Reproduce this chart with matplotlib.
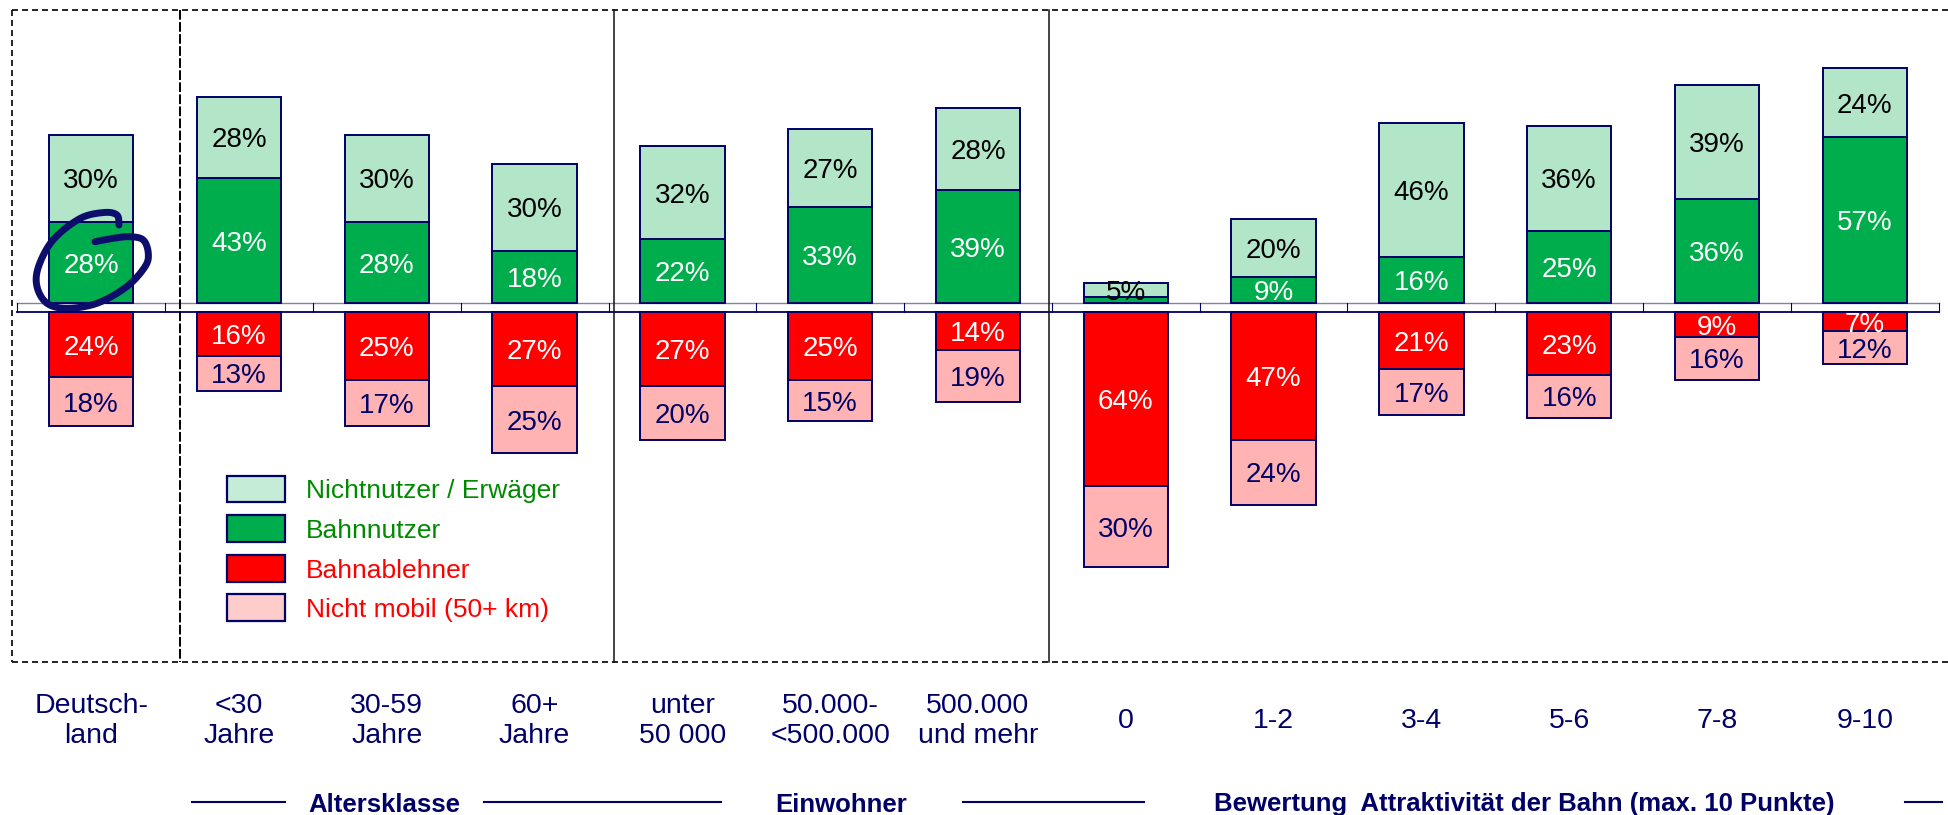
import numpy as np
import matplotlib
matplotlib.use("Agg")
import matplotlib.pyplot as plt
from matplotlib.patches import Rectangle
from matplotlib.transforms import blended_transform_factory

plt.rcParams['font.family'] = ['Liberation Sans', 'DejaVu Sans']

# ---- data -------------------------------------------------------------
categories = ["Deutsch-\nland", "<30\nJahre", "30-59\nJahre", "60+\nJahre",
              "unter\n50 000", "50.000-\n<500.000", "500.000\nund mehr",
              "0", "1-2", "3-4", "5-6", "7-8", "9-10"]
groups = ["Altersklasse", "Einwohner",
          "Bewertung  Attraktivität der Bahn (max. 10 Punkte)"]

nichtnutzer = [30, 28, 30, 30, 32, 27, 28, 5, 20, 46, 36, 39, 24]
bahnnutzer = [28, 43, 28, 18, 22, 33, 39, 2, 9, 16, 25, 36, 57]
ablehner = [24, 16, 25, 27, 27, 25, 14, 64, 47, 21, 23, 9, 7]
nicht_mobil = [18, 13, 17, 25, 20, 15, 19, 30, 24, 17, 16, 16, 12]

legend_labels = ["Nichtnutzer / Erwäger", "Bahnnutzer",
                 "Bahnablehner", "Nicht mobil (50+ km)"]

# ---- style ------------------------------------------------------------
LIGHT = '#b3e6c8'
GREEN = '#00ad4c'
RED = '#ff0000'
PINK = '#ffb3b3'
NAVY = '#000066'
TXT_GREEN = '#008a00'

W, H = 1948, 815


def frame(left, top, right, bottom):
    """axes rect in figure fraction from pixel edges (y measured from top)"""
    return [left / W, 1 - bottom / H, (right - left) / W, (bottom - top) / H]


fig = plt.figure(figsize=(W / 100, H / 100), dpi=100)

# background axes in pixel coordinates for frame, dividers, legend ...
ax_bg = fig.add_axes([0, 0, 1, 1])
ax_bg.set_xlim(0, W)
ax_bg.set_ylim(H, 0)
ax_bg.axis('off')
ax_bg.set_zorder(0)

ax_top = fig.add_axes(frame(12, 10, W, 303.3))
ax_bot = fig.add_axes(frame(12, 312.3, W, 661.7))
for ax in (ax_top, ax_bot):
    ax.set_xlim(-0.536, 12.563)
    ax.axis('off')
    ax.set_zorder(2)
    ax.patch.set_alpha(0)
ax_top.set_ylim(0, 100.8)
ax_bot.set_ylim(-128.7, 0)

x = np.arange(len(categories))
width = 0.572
bar_kw = dict(edgecolor=NAVY, linewidth=1.4, clip_on=False)

neg_abl = -np.array(ablehner)
neg_mob = -np.array(nicht_mobil)

b_nutzer = ax_top.bar(x, bahnnutzer, width, color=GREEN, **bar_kw)
b_nicht = ax_top.bar(x, nichtnutzer, width, bottom=bahnnutzer, color=LIGHT, **bar_kw)
b_abl = ax_bot.bar(x, neg_abl, width, color=RED, **bar_kw)
b_mob = ax_bot.bar(x, neg_mob, width, bottom=neg_abl, color=PINK, **bar_kw)


def label_bars(ax, bars, values, color):
    for rect, v in zip(bars, values):
        if v < 3:
            continue
        ax.text(rect.get_x() + rect.get_width() / 2,
                rect.get_y() + rect.get_height() / 2,
                f"{v}%", ha='center', va='center_baseline',
                fontsize=20, color=color, zorder=5)


label_bars(ax_top, b_nutzer, bahnnutzer, 'white')
label_bars(ax_top, b_nicht, nichtnutzer, 'black')
label_bars(ax_bot, b_abl, ablehner, 'white')
label_bars(ax_bot, b_mob, nicht_mobil, NAVY)

# ---- zero band -------------------------------------------------------
trans = blended_transform_factory(ax_bot.transData, ax_bg.transData)
n = len(categories)
ax_bg.add_patch(Rectangle((-0.5, 303.3), n, 9, transform=trans,
                          facecolor='white', edgecolor='none'))
ax_bg.plot([-0.5, n - 0.5], [303.3, 303.3], transform=trans,
           color='#8080b0', lw=1.0)
ax_bg.plot([-0.5, n - 0.5], [312.3, 312.3], transform=trans,
           color=NAVY, lw=1.3)
for xb in np.arange(-0.5, n, 1.0):
    ax_bg.plot([xb, xb], [303.3, 312.3], transform=trans,
               color=NAVY, lw=0.8)

# ---- frame and group dividers ---------------------------------------
dash = dict(color='black', lw=1.2, linestyle=(0, (3.6, 2.4)))
ax_bg.plot([12, 12], [10, 661.7], **dash)
ax_bg.plot([12, W], [10, 10], **dash)
ax_bg.plot([12, W], [661.7, 661.7], **dash)
ax_bg.plot([180, 180], [10, 661.7], color='black', lw=1.4,
           linestyle=(0, (5, 1.2)))
for xd in (614, 1049):
    ax_bg.plot([xd, xd], [10, 661.7], color='#111111', lw=1.1)

# ---- category labels -------------------------------------------------
for xi, lab in zip(x, categories):
    lines = lab.split("\n")
    bases = [713.3, 743.3] if len(lines) == 2 else [728.3]
    for line, yb in zip(lines, bases):
        ax_bg.text(xi, yb, line, transform=trans, ha='center', va='baseline',
                   fontsize=20.5, color=NAVY)

# ---- group labels with rules ---------------------------------------
for cx, g in zip((384, 841.5, 1523.8), groups):
    ax_bg.text(cx, 811.5, g, ha='center', va='baseline', fontsize=18.5,
               fontweight='bold', color=NAVY)
for x0, x1 in ((191.5, 285.2), (484, 720.5), (962.5, 1143.8), (1904.5, 1942)):
    ax_bg.plot([x0, x1], [801.7, 801.7], color=NAVY, lw=1.5)

# ---- legend ----------------------------------------------------------
leg_fill = ['#c5ecd6', GREEN, RED, '#ffcccc']
leg_text = [TXT_GREEN, TXT_GREEN, RED, RED]
for yc, fc, tc, lab in zip((489, 528.3, 568.3, 607.7), leg_fill, leg_text,
                           legend_labels):
    ax_bg.add_patch(Rectangle((226.8, yc - 13.3), 58.4, 26.6,
                              facecolor=fc, edgecolor=NAVY, lw=1.6))
    ax_bg.text(306, yc + 9.4, lab, ha='left', va='baseline', fontsize=19,
               color=tc)


# ---- hand-drawn circle around the Germany value ----------------------
def catmull_rom(pts, steps=14):
    p = np.asarray(pts, float)
    p = np.vstack([p[0], p, p[-1]])
    out = []
    t = np.linspace(0, 1, steps, endpoint=False)[:, None]
    for i in range(1, len(p) - 2):
        p0, p1, p2, p3 = p[i - 1], p[i], p[i + 1], p[i + 2]
        out.append(0.5 * (2 * p1 + (-p0 + p2) * t
                          + (2 * p0 - 5 * p1 + 4 * p2 - p3) * t ** 2
                          + (-p0 + 3 * p1 - 3 * p2 + p3) * t ** 3))
    out.append(p[-2][None])
    return np.vstack(out)


stroke = [(119, 225), (117, 215), (104, 212.5), (80, 218.5), (53, 240),
          (38.5, 266.7), (37, 286.7), (47, 303.3), (67, 308.3),
          (97, 303.3), (126.7, 286.7), (145, 266.7), (148.3, 253.3),
          (143.3, 240), (130, 236.7), (113.3, 238.3), (95, 241.7)]
curve = catmull_rom(stroke)
ax_top.plot(curve[:, 0], curve[:, 1], transform=ax_bg.transData,
            color='#0d0d6b', lw=5.0, solid_capstyle='round', clip_on=False,
            zorder=10)

fig.savefig("out.png", dpi=100)
